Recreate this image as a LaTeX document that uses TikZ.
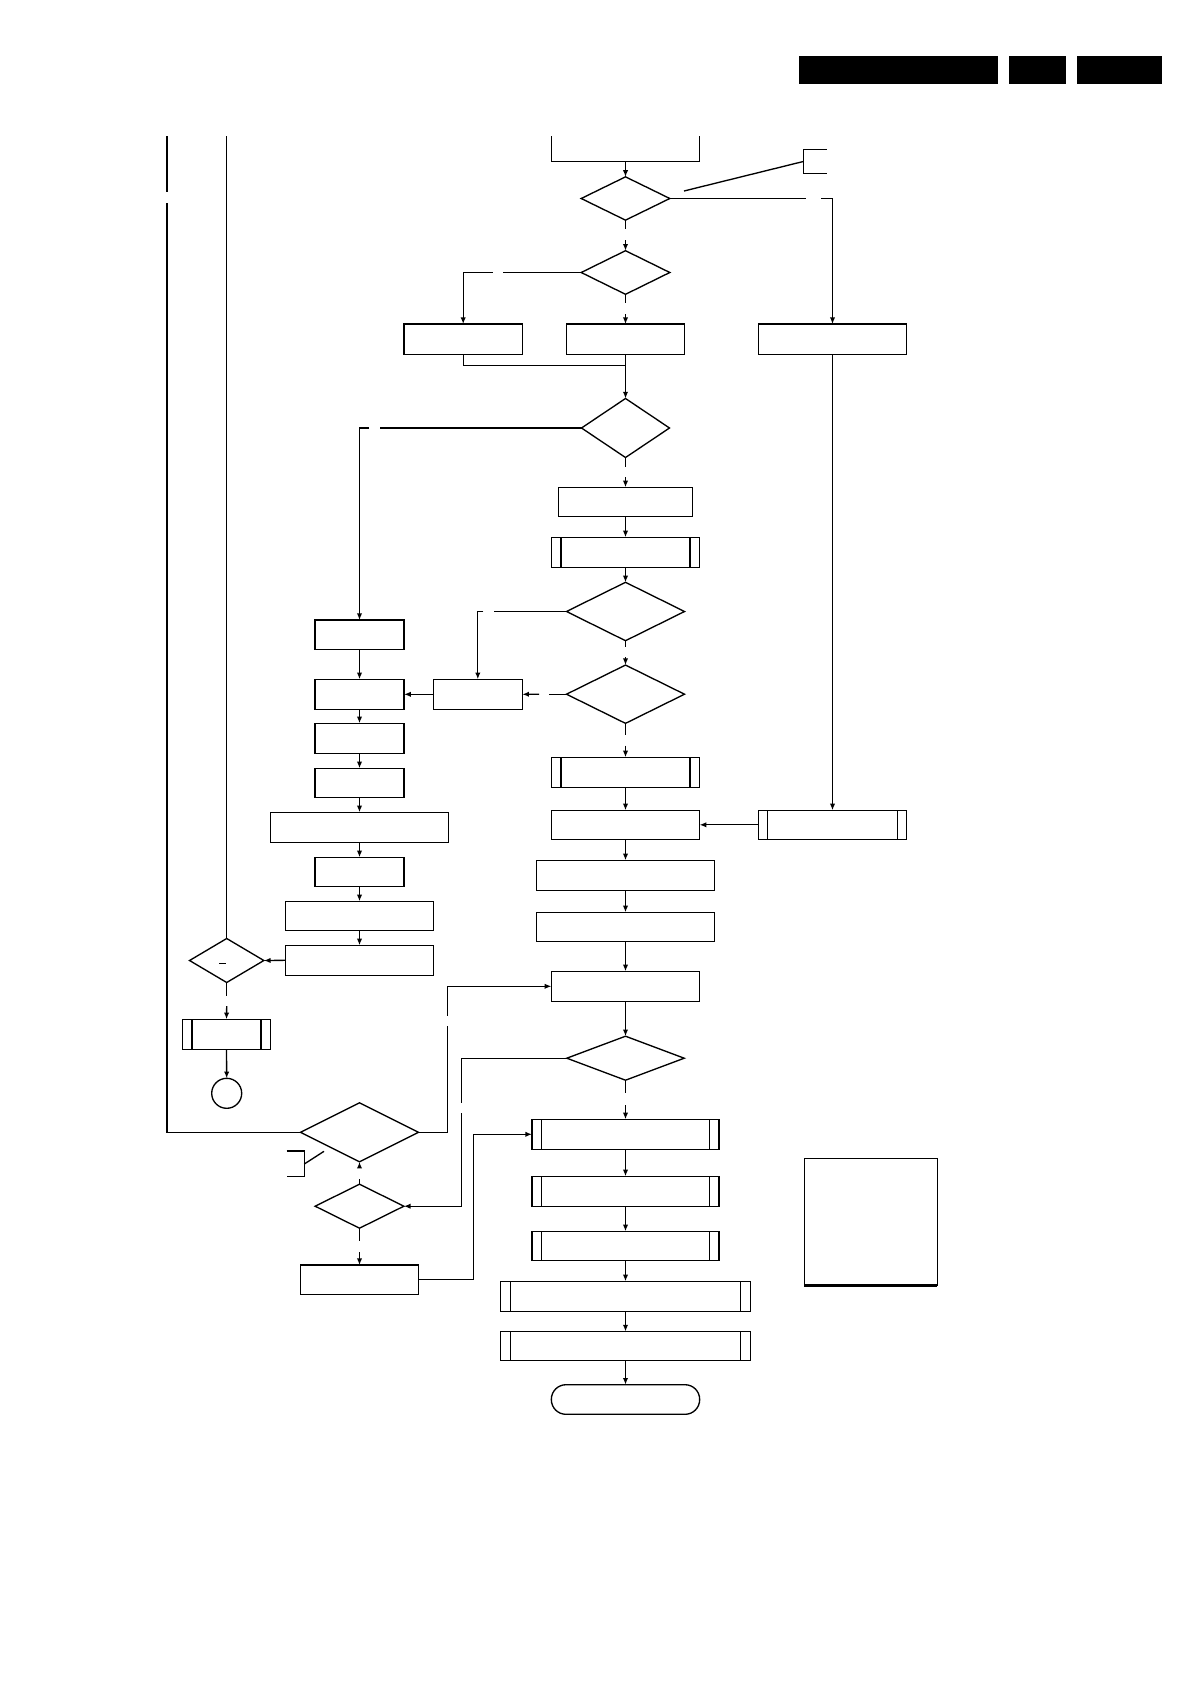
\documentclass[tikz,border=0pt]{standalone}
\usetikzlibrary{shapes.geometric,arrows.meta}
\tikzset{
  bx/.style 2 args={draw, rectangle, minimum width=#1*0.75pt, minimum height=#2*0.75pt, inner sep=0pt, outer sep=0pt},
  pbx/.style 2 args={bx={#1}{#2}, path picture={
      \draw ([xshift=7.1pt]path picture bounding box.north west) -- ([xshift=7.1pt]path picture bounding box.south west)
            ([xshift=-7.1pt]path picture bounding box.north east) -- ([xshift=-7.1pt]path picture bounding box.south east);}},
  dm/.style 2 args={draw, diamond, minimum width=#1*0.75pt, minimum height=#2*0.75pt, inner sep=0pt, outer sep=0pt},
  term/.style 2 args={draw, rectangle, rounded corners=#2*0.37pt, minimum width=#1*0.75pt, minimum height=#2*0.75pt, inner sep=0pt, outer sep=0pt},
  arr/.style={-{Latex[length=5pt,width=4pt]}},
  hdr/.style={fill=black, draw=none}
}
\begin{document}
\begin{tikzpicture}[x=0.75pt, y=-0.75pt, line width=1pt]
\useasboundingbox (0,0) rectangle (1191,1684);

% header bars
\fill[hdr] (799,56) rectangle (998,83.7);
\fill[hdr] (1009,56) rectangle (1066,83.7);
\fill[hdr] (1077,56) rectangle (1162,83.7);

% top partial box
\draw (551.5,136) -- (551.5,161.3) -- (699.5,161.3) -- (699.5,136);
\coordinate (tb) at (625.5,161.3);

% main column nodes
\node[dm={88.6}{43.3}] (D1) at (625.5,198.5) {};
\node[dm={88.6}{43.6}] (D2) at (625.5,272.5) {};
\node[bx={118.6}{30.3}] (A) at (463.2,339.2) {};
\node[bx={118.2}{30.3}] (B) at (625.5,339.2) {};
\node[bx={148.4}{30.3}] (C) at (832.5,339.2) {};
\node[dm={88}{59}] (D3) at (625.5,428) {};
\node[bx={133.4}{29}] (Db) at (625.5,501.8) {};
\node[pbx={148}{30}] (E) at (625.5,552.3) {};
\node[dm={118}{58.4}] (D4) at (625.5,611.5) {};
\node[dm={118}{58.3}] (D5) at (625.5,694.2) {};
\node[bx={89}{30}] (F) at (477.8,694.3) {};
\node[pbx={148.2}{30}] (AA) at (625.5,772.3) {};
\node[bx={148.2}{29}] (BB) at (625.5,824.8) {};
\node[pbx={148.4}{29}] (CC) at (832.5,824.8) {};
\node[bx={177.4}{30}] (DD) at (625.5,875.3) {};
\node[bx={177.4}{29}] (EE) at (625.5,926.8) {};
\node[bx={148.2}{30}] (R) at (625.5,986.3) {};
\node[dm={117.4}{44}] (S) at (625.5,1058.2) {};
\node[pbx={187}{30}] (U) at (625.5,1134.3) {};
\node[pbx={187}{30}] (W) at (625.5,1191.3) {};
\node[pbx={187}{29}] (X) at (625.5,1245.8) {};
\node[pbx={249.4}{30}] (Y) at (625.5,1296.3) {};
\node[pbx={249.4}{29}] (Z) at (625.5,1346) {};
\node[term={148.3}{29.6}] (TE) at (625.5,1399.5) {};

% left column nodes
\node[bx={89.2}{29.3}] (H) at (359.5,634.7) {};
\node[bx={89.2}{30}] (G) at (359.5,694.3) {};
\node[bx={89.2}{30}] (I) at (359.5,738.3) {};
\node[bx={89.2}{29}] (J) at (359.5,782.8) {};
\node[bx={178.5}{30}] (K) at (359.5,827.3) {};
\node[bx={89}{29}] (L) at (359.5,871.8) {};
\node[bx={148.2}{29}] (M) at (359.5,915.8) {};
\node[bx={148.4}{30}] (N) at (359.5,960.3) {};
\node[dm={74.3}{44}] (SD) at (226.7,960.5) {};
\node[pbx={88}{30}] (P) at (226.5,1034.3) {};
\node[draw, circle, minimum size=22.5pt, inner sep=0pt, outer sep=0pt] (CI) at (226.7,1093.3) {};
\node[dm={118}{59}] (Q) at (359.5,1132.3) {};
\node[dm={88.7}{44}] (T) at (359.5,1206.2) {};
\node[bx={118.4}{29.3}] (V) at (359.5,1279.7) {};

% small mark inside small diamond
\draw (219.3,963.3) -- (226,963.3);

% annotation brackets
\draw (826.7,149.3) -- (803.3,149.3) -- (803.3,173.3) -- (826.7,173.3);
\draw (803.3,161.5) -- (684,191);
\draw (286.7,1151) -- (304.3,1151) -- (304.3,1176.3) -- (286.7,1176.3);
\draw (304.3,1164) -- (324,1151.3);

% legend box
\node[bx={133}{127.4}] (LG) at (870.8,1222) {};
\draw[line width=2pt] (LG.south west) -- (LG.south east);

% connectors main column
\draw[arr] (tb) -- (D1.north);
\draw (D1.south) -- (625.5,229.3);
\draw[arr] (625.5,240) -- (D2.north);
\draw (D1.east) -- (805.7,198.5);
\draw[arr] (821,198.5) -| (C.north);
\draw (D2.west) -- (502.9,272.5);
\draw[arr] (492.9,272.5) -| (A.north);
\draw (D2.south) -- (625.5,303.3);
\draw[arr] (625.5,314.3) -- (B.north);
\coordinate (mg) at (625.5,365.3);
\draw (A.south) |- (mg);
\draw[arr] (B.south) -- (D3.north);
\draw (D3.west) -- (380,428);
\draw[arr] (369,428) -| (H.north);
\draw (D3.south) -- (625.5,466.7);
\draw[arr] (625.5,477.3) -- (Db.north);
\draw[arr] (Db.south) -- (E.north);
\draw[arr] (E.south) -- (D4.north);
\draw (D4.west) -- (494,611.5);
\draw[arr] (483.3,611.5) -| (F.north);
\draw (D4.south) -- (625.5,646.7);
\draw[arr] (625.5,657.3) -- (D5.north);
\draw (D5.west) -- (549.3,694.2);
\draw[arr] (539,694.2) -- (F.east);
\draw[arr] (F.west) -- (G.east);
\draw (D5.south) -- (625.5,735);
\draw[arr] (625.5,745.7) -- (AA.north);
\draw[arr] (AA.south) -- (BB.north);
\draw[arr] (C.south) -- (CC.north);
\draw[arr] (CC.west) -- (BB.east);
\draw[arr] (BB.south) -- (DD.north);
\draw[arr] (DD.south) -- (EE.north);
\draw[arr] (EE.south) -- (R.north);
\draw[arr] (R.south) -- (S.north);
\draw (S.south) -- (625.5,1093.3);
\draw[arr] (625.5,1105) -- (U.north);
\draw[arr] (U.south) -- (W.north);
\draw[arr] (W.south) -- (X.north);
\draw[arr] (X.south) -- (Y.north);
\draw[arr] (Y.south) -- (Z.north);
\draw[arr] (Z.south) -- (TE.north);

% left column connectors
\draw[arr] (H.south) -- (G.north);
\draw[arr] (G.south) -- (I.north);
\draw[arr] (I.south) -- (J.north);
\draw[arr] (J.south) -- (K.north);
\draw[arr] (K.south) -- (L.north);
\draw[arr] (L.south) -- (M.north);
\draw[arr] (M.south) -- (N.north);
\draw[arr] (N.west) -- (SD.east);
\draw (SD.south) -- (226.7,995.7);
\draw[arr] (226.7,1006) -- (P.north);
\draw[arr] (P.south) -- (CI.north);
\draw (226.7,136) -- (SD.north);
\draw (167,136) -- (167,192);
\draw (167,203.3) |- (Q.west);
\draw (Q.east) -| (447.5,1026);
\draw[arr] (447.5,1015.7) |- (R.west);
\draw (S.west) -| (461.3,1102.7);
\draw[arr] (461.3,1113.3) |- (T.east);
\draw (T.north) -- (359.5,1178.7);
\draw[arr] (359.5,1166.7) -- (Q.south);
\draw (T.south) -- (359.5,1241.3);
\draw[arr] (359.5,1252) -- (V.north);
\coordinate (vu) at (473.3,1134.3);
\draw[arr] (V.east) -| (vu) -- (U.west);
\end{tikzpicture}
\end{document}
